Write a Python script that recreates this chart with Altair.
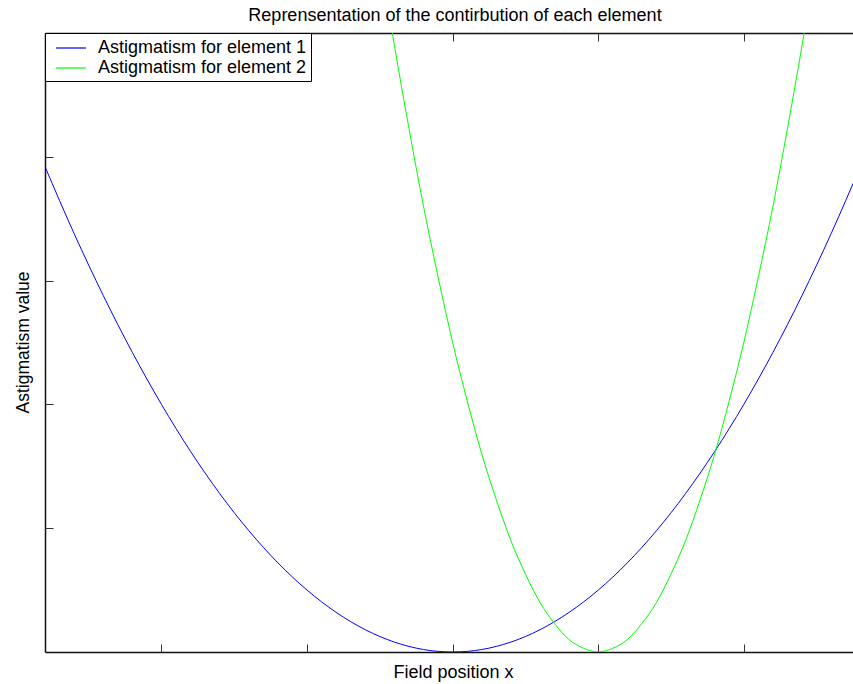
import altair as alt
import pandas as pd

# ---- data ----
x_blue = [-2.8, -2.6, -2.4, -2.2, -2.0, -1.8, -1.6, -1.4, -1.2, -1.0, -0.8, -0.6, -0.4, -0.2,
          0.0, 0.2, 0.4, 0.6, 0.8, 1.0, 1.2, 1.4, 1.6, 1.8, 2.0, 2.2, 2.4, 2.6, 2.8]
y_blue = [3.92, 3.38, 2.88, 2.42, 2.00, 1.62, 1.28, 0.98, 0.72, 0.50, 0.32, 0.18, 0.08, 0.02,
          0.00, 0.02, 0.08, 0.18, 0.32, 0.50, 0.72, 0.98, 1.28, 1.62, 2.00, 2.42, 2.88, 3.38, 3.92]

x_green = [-0.5, -0.4, -0.3, -0.2, -0.1, 0.0, 0.1, 0.2, 0.3, 0.4, 0.5, 0.6, 0.7, 0.8, 0.9,
           1.0, 1.1, 1.2, 1.3, 1.4, 1.5, 1.6, 1.7, 1.8, 1.9, 2.0, 2.1, 2.2, 2.3, 2.4, 2.5]
y_green = [5.63, 4.90, 4.23, 3.60, 3.03, 2.50, 2.03, 1.60, 1.23, 0.90, 0.63, 0.40, 0.23, 0.10, 0.03,
           0.00, 0.03, 0.10, 0.23, 0.40, 0.63, 0.90, 1.23, 1.60, 2.03, 2.50, 3.03, 3.60, 4.23, 4.90, 5.63]

series_names = ["Astigmatism for element 1", "Astigmatism for element 2"]
series_colors = ["#0000ff", "#00ff00"]

x_ticks = [-2, -1, 0, 1, 2]
y_ticks = [1, 2, 3, 4]
x_domain = [-2.8, 2.75]
y_domain = [0, 5]

title_text = "Reprensentation of the contirbution of each element"
x_title = "Field position x"
y_title = "Astigmatism value"

df = pd.concat([
    pd.DataFrame({"x": x_blue, "y": y_blue, "series": series_names[0]}),
    pd.DataFrame({"x": x_green, "y": y_green, "series": series_names[1]}),
], ignore_index=True)

FONT = "Liberation Sans"
W, H = 808, 619

xs = alt.Scale(domain=x_domain, nice=False, zero=False)
ys = alt.Scale(domain=y_domain, nice=False, zero=False)

tick_common = dict(labels=False, grid=False, domain=False, ticks=True, tickSize=8,
                   offset=-8, tickColor="#333333", tickWidth=1)
dom_common = dict(labels=False, grid=False, domain=True, ticks=False,
                  domainColor="#111111", domainWidth=1.5, title=None)

x_bottom_ticks = alt.Axis(orient="bottom", values=x_ticks, title=x_title,
                          titleFont=FONT, titleFontSize=18, titleFontWeight="normal",
                          titleColor="black", titleX=408, titleY=33,
                          titleBaseline="alphabetic", titleAlign="center", **tick_common)
y_left_ticks = alt.Axis(orient="left", values=y_ticks, title=y_title,
                        titleFont=FONT, titleFontSize=17.5, titleFontWeight="normal",
                        titleColor="black", titleAngle=270, titleX=-25, titleY=309,
                        titleBaseline="alphabetic", titleAlign="center", **tick_common)
x_top_ticks = alt.Axis(orient="top", values=x_ticks, title=None, **tick_common)

lines = alt.Chart(df).mark_line(clip=True, strokeWidth=1, interpolate="monotone").encode(
    x=alt.X("x:Q", scale=xs, axis=x_bottom_ticks),
    y=alt.Y("y:Q", scale=ys, axis=y_left_ticks),
    color=alt.Color("series:N",
                    scale=alt.Scale(domain=series_names, range=series_colors),
                    legend=alt.Legend(orient="top-left", offset=0, title=None,
                                      fillColor="white", strokeColor="black",
                                      padding=4, symbolType="M-1.5,0H1.5", symbolSize=400,
                                      symbolStrokeWidth=1.2, labelFont=FONT, labelFontSize=18,
                                      labelColor="black", labelOffset=16, symbolOffset=11,
                                      labelLimit=500, rowPadding=0, cornerRadius=0)),
    detail="series:N",
)

ghost = alt.Chart(df).mark_line(clip=True, opacity=0)

frame_a = ghost.encode(
    x=alt.X("x:Q", scale=xs, axis=alt.Axis(orient="bottom", **dom_common)),
    y=alt.Y("y:Q", scale=ys, axis=alt.Axis(orient="left", **dom_common)),
    detail="series:N",
)
frame_b = ghost.encode(
    x=alt.X("x:Q", scale=xs, axis=x_top_ticks),
    y=alt.Y("y:Q", scale=ys, axis=None),
    detail="series:N",
)
frame_c = ghost.encode(
    x=alt.X("x:Q", scale=xs, axis=alt.Axis(orient="top", **dom_common)),
    y=alt.Y("y:Q", scale=ys, axis=None),
    detail="series:N",
)

chart = alt.layer(frame_a, frame_b, frame_c, lines).resolve_axis(
    x="independent", y="independent"
).properties(
    width=W, height=H,
    autosize=alt.AutoSizeParams(type="none"),
    padding={"left": 45, "top": 33, "right": 0, "bottom": 32},
    title=alt.TitleParams(title_text, font=FONT, fontSize=18, fontWeight="normal",
                          color="black", anchor="middle", baseline="alphabetic",
                          offset=12, dx=6, dy=18),
).configure_view(stroke="transparent", strokeWidth=0).configure(background="white")

chart.save("out.html", embed_options={"renderer": "svg", "actions": False})
